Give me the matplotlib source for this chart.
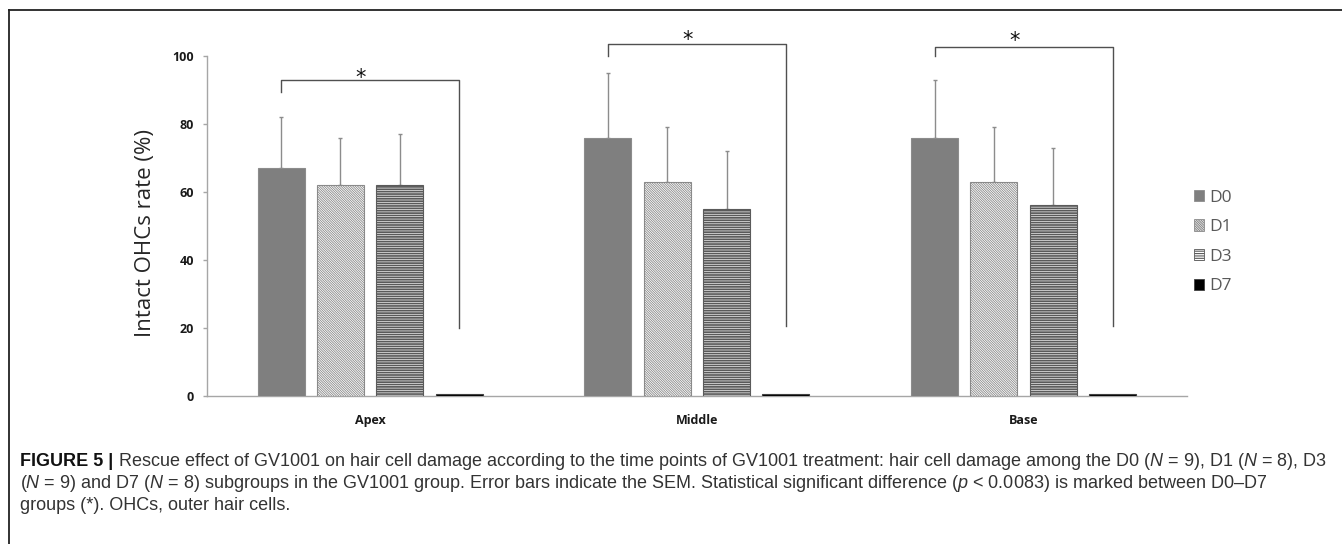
import matplotlib
matplotlib.use("Agg")
import matplotlib.pyplot as plt
import numpy as np
from matplotlib.patches import Patch
from matplotlib.lines import Line2D
from matplotlib import font_manager

# ---------------- data ----------------
categories = ["Apex", "Middle", "Base"]
series_names = ["D0", "D1", "D3", "D7"]
d0_vals = [67, 76, 76]
d1_vals = [62, 63, 63]
d3_vals = [62, 55, 56]
d7_vals = [0.5, 0.5, 0.5]
d0_sem = [15, 19, 17]
d1_sem = [14, 16, 16]
d3_sem = [15, 17, 17]
d7_sem = [0, 0, 0]
yticks = [0, 20, 40, 60, 80, 100]
# significance brackets (D0 vs D7): top level, left leg end, right leg end, star centre
brk_top = [93, 103.5, 102.7]
brk_left = [89.5, 100, 100]
brk_right = [20, 20.5, 20.5]
star_y = [95.3, 106.5, 106.2]
ylabel = "Intact OHCs rate (%)"

caption_l1_bold = "FIGURE 5 |"
caption_l1 = " Rescue effect of GV1001 on hair cell damage according to the time points of GV1001 treatment: hair cell damage among the D0 ($N$ = 9), D1 ($N$ = 8), D3"
caption_l2 = "($N$ = 9) and D7 ($N$ = 8) subgroups in the GV1001 group. Error bars indicate the SEM. Statistical significant difference ($p$ < 0.0083) is marked between D0\u2013D7"
caption_l3 = "groups (*). OHCs, outer hair cells."

# ---------------- fonts ----------------
avail = {f.name for f in font_manager.fontManager.ttflist}
cap_family = "Liberation Sans Narrow" if "Liberation Sans Narrow" in avail else "Liberation Sans"
plt.rcParams["mathtext.fontset"] = "custom"
plt.rcParams["mathtext.rm"] = cap_family
plt.rcParams["mathtext.it"] = cap_family + ":italic"
plt.rcParams["mathtext.bf"] = cap_family + ":bold"
plt.rcParams["font.family"] = ["Open Sans", "DejaVu Sans"]

W, H = 1342, 544
fig = plt.figure(figsize=(W / 100, H / 100), dpi=100)
fig.patch.set_facecolor("white")

ax_l, ax_r, ax_b, ax_t = 206.7, 1187, 395.7, 56
ax = fig.add_axes([ax_l / W, 1 - ax_b / H, (ax_r - ax_l) / W, (ax_b - ax_t) / H])
ax.set_xlim(-0.5, 2.5)
ax.set_ylim(0, 100)

x = np.arange(len(categories))
pitch = 0.1816
bw = 0.144
vals = [d0_vals, d1_vals, d3_vals, d7_vals]
sems = [d0_sem, d1_sem, d3_sem, d7_sem]
faces = ["#7f7f7f", "white", "white", "black"]
edges = ["#8c8c8c", "#8a8a8a", "#5a5a5a", "#404040"]
hatches = [None, "\\" * 14, "-" * 7, None]
hlw = [0.8, 0.6, 1.25, 0.8]

handles = []
for i in range(4):
    plt.rcParams["hatch.linewidth"] = hlw[i]
    offs = x + (i - 1.5) * pitch
    bars = ax.bar(offs, vals[i], width=bw, color=faces[i], edgecolor=edges[i],
                  linewidth=0.8, hatch=hatches[i], zorder=3)
    if any(s > 0 for s in sems[i]):
        ax.errorbar(offs, vals[i], yerr=[np.zeros(3), sems[i]], fmt="none",
                    ecolor="#8c8c8c", elinewidth=1.0, capsize=1.7, capthick=1.0, zorder=2)
    ph = Patch(facecolor=faces[i], edgecolor=edges[i], hatch=hatches[i], linewidth=0.6)
    handles.append(ph)

# brackets
px_per_unit = (ax_b - ax_t) / 100.0
star_fs = 15
star_off = 0.6 * star_fs * 100 / 72 / px_per_unit
for g in range(3):
    xl = x[g] - 1.5 * pitch
    xr = x[g] + 1.5 * pitch
    ax.plot([xl, xl, xr, xr], [brk_left[g], brk_top[g], brk_top[g], brk_right[g]],
            color="#505050", lw=1.0, clip_on=False, zorder=4)
    ax.text((xl + xr) / 2 - 0.028, star_y[g] - star_off, "*", ha="center", va="baseline",
            fontsize=star_fs, color="#111111", family="DejaVu Sans", clip_on=False)

# axes styling
for s in ["top", "right"]:
    ax.spines[s].set_visible(False)
for s in ["bottom", "left"]:
    ax.spines[s].set_color("#a6a6a6")
    ax.spines[s].set_linewidth(1.0)
ax.set_yticks(yticks)
ax.set_yticklabels([str(t) for t in yticks], fontweight="bold", fontsize=9, color="#1a1a1a")
ax.set_xticks(x)
ax.set_xticklabels(categories, fontweight="bold", fontsize=9, color="#1a1a1a")
ax.tick_params(axis="y", length=2.7, width=1.0, color="#a6a6a6", pad=6.5)
ax.tick_params(axis="x", length=0, pad=13)
ax.set_ylabel(ylabel, fontsize=16, color="#262626")
ax.yaxis.label.set_va("center")
ax.yaxis.set_label_coords((146 - ax_l) / (ax_r - ax_l), (ax_b - 233) / (ax_b - ax_t))

leg = fig.legend(handles, series_names, loc="center left",
                 bbox_to_anchor=(1178 / W, 1 - 242 / H), frameon=False,
                 fontsize=12.5, handlelength=0.62, handleheight=0.62,
                 handletextpad=0.3, labelspacing=0.78)
for t in leg.get_texts():
    t.set_color("#595959")

# figure border (top and left)
fig.add_artist(Line2D([9 / W, 1], [1 - 10 / H, 1 - 10 / H], color="#222222", lw=1.3,
                      transform=fig.transFigure))
fig.add_artist(Line2D([9 / W, 9 / W], [0, 1 - 10 / H], color="#222222", lw=1.3,
                      transform=fig.transFigure))

# caption
renderer = fig.canvas.get_renderer()
cap_fs = 12.5
x0 = 20
ys = [462, 484, 506]

def draw_caption(fs):
    arts = []
    tb = fig.text(x0 / W, 1 - ys[0] / H, caption_l1_bold, fontsize=fs, family=cap_family,
                  fontweight="bold", color="#111111", va="center", ha="left")
    arts.append(tb)
    bb = tb.get_window_extent(renderer)
    t1 = fig.text(bb.x1 / W, 1 - ys[0] / H, caption_l1, fontsize=fs, family=cap_family,
                  color="#333333", va="center", ha="left")
    arts.append(t1)
    t2 = fig.text(x0 / W, 1 - ys[1] / H, caption_l2, fontsize=fs, family=cap_family,
                  color="#333333", va="center", ha="left")
    t3 = fig.text(x0 / W, 1 - ys[2] / H, caption_l3, fontsize=fs, family=cap_family,
                  color="#333333", va="center", ha="left")
    arts += [t2, t3]
    return arts

arts = draw_caption(cap_fs)
end = arts[1].get_window_extent(renderer).x1
target = 1328
scale = (target - x0) / (end - x0)
for a in arts:
    a.remove()
arts = draw_caption(cap_fs * scale)

fig.savefig("out.png", dpi=100, facecolor="white")
